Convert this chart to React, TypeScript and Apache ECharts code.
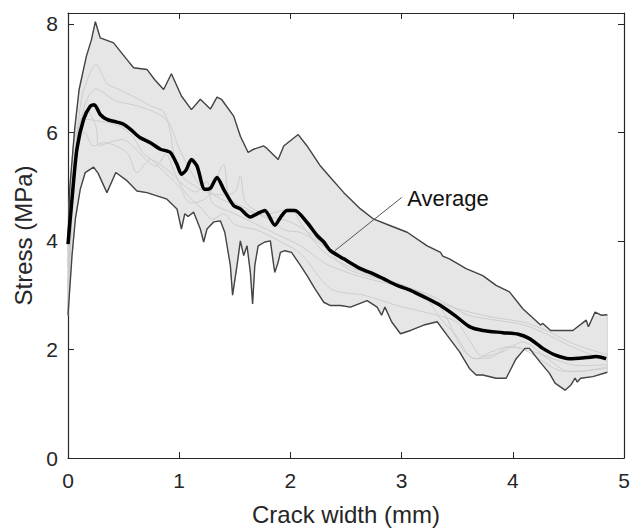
import React, { useEffect, useRef } from "react";
import * as echarts from "echarts";

const xTicks = [0, 1, 2, 3, 4, 5];
const yTicks = [0, 2, 4, 6, 8];

const upperEnvelope: number[][] = [
  [0, 4.0], [0.015, 4.95], [0.06, 6.06], [0.1, 6.79], [0.165, 7.4], [0.21, 7.7], [0.246, 8.04],
  [0.29, 7.74], [0.41, 7.65], [0.53, 7.34], [0.59, 7.19], [0.71, 7.16], [0.78, 6.97], [0.86, 6.79],
  [0.93, 7.08], [1.02, 6.67], [1.11, 6.42], [1.19, 6.61], [1.28, 6.43], [1.34, 6.65], [1.38, 6.61],
  [1.49, 6.3], [1.55, 5.93], [1.62, 5.63], [1.67, 5.69], [1.76, 5.75], [1.78, 5.72], [1.89, 5.5],
  [1.94, 5.75], [2.07, 5.96], [2.15, 5.75], [2.27, 5.38], [2.36, 5.17], [2.48, 4.89], [2.63, 4.59],
  [2.75, 4.4], [2.9, 4.28], [3.05, 4.16], [3.23, 3.91], [3.35, 3.79], [3.37, 3.72], [3.43, 3.67],
  [3.58, 3.49], [3.73, 3.36], [3.85, 3.18], [3.97, 3.06], [4.09, 2.75], [4.25, 2.45], [4.27, 2.48],
  [4.34, 2.35], [4.54, 2.35], [4.66, 2.54], [4.68, 2.42], [4.74, 2.69], [4.8, 2.63], [4.85, 2.64],
];

const lowerEnvelope: number[][] = [
  [0, 2.63], [0.036, 3.73], [0.066, 4.4], [0.11, 4.95], [0.155, 5.26], [0.23, 5.36], [0.27, 5.25],
  [0.35, 4.89], [0.43, 5.26], [0.53, 5.11], [0.62, 4.92], [0.71, 4.89], [0.8, 4.83], [0.89, 4.77],
  [0.98, 4.59], [1.02, 4.22], [1.05, 4.5], [1.08, 4.45], [1.13, 4.53], [1.19, 4.22], [1.22, 3.98],
  [1.25, 4.22], [1.31, 4.35], [1.37, 4.37], [1.41, 4.16], [1.46, 3.55], [1.48, 3.0], [1.52, 3.55],
  [1.55, 4.0], [1.58, 3.73], [1.61, 3.91], [1.64, 3.42], [1.66, 2.84], [1.68, 3.55], [1.71, 3.91],
  [1.77, 3.98], [1.82, 4.0], [1.85, 3.55], [1.86, 3.42], [1.89, 3.61], [1.91, 3.79], [1.95, 3.82],
  [2.01, 3.79], [2.09, 3.55], [2.15, 3.36], [2.22, 3.12], [2.3, 2.87], [2.36, 2.81], [2.45, 2.81],
  [2.54, 2.78], [2.69, 2.9], [2.78, 2.78], [2.82, 2.63], [2.85, 2.78], [2.91, 2.51], [2.99, 2.29],
  [3.08, 2.35], [3.2, 2.45], [3.32, 2.51], [3.41, 2.26], [3.52, 1.96], [3.61, 1.65], [3.67, 1.53],
  [3.73, 1.53], [3.85, 1.47], [3.94, 1.47], [3.97, 1.59], [4.03, 1.83], [4.11, 2.02], [4.15, 2.02],
  [4.24, 1.78], [4.33, 1.56], [4.38, 1.38], [4.47, 1.25], [4.52, 1.34], [4.56, 1.47], [4.58, 1.4],
  [4.61, 1.47], [4.72, 1.5], [4.85, 1.58],
];

const averageCurve: number[][] = [
  [0, 3.94], [0.036, 4.77], [0.08, 5.69], [0.14, 6.24], [0.2, 6.48], [0.236, 6.51], [0.29, 6.33],
  [0.35, 6.24], [0.44, 6.19], [0.5, 6.15], [0.56, 6.06], [0.65, 5.9], [0.74, 5.81], [0.83, 5.69],
  [0.92, 5.63], [0.98, 5.41], [1.02, 5.23], [1.06, 5.3], [1.11, 5.5], [1.16, 5.38], [1.23, 4.95],
  [1.28, 4.97], [1.34, 5.17], [1.4, 4.95], [1.49, 4.65], [1.55, 4.59], [1.64, 4.44], [1.7, 4.5],
  [1.77, 4.56], [1.86, 4.29], [1.92, 4.46], [1.97, 4.56], [2.04, 4.56], [2.15, 4.34], [2.24, 4.1],
  [2.3, 3.98], [2.36, 3.82], [2.48, 3.67], [2.63, 3.49], [2.75, 3.39], [2.84, 3.3], [2.96, 3.18],
  [3.08, 3.09], [3.2, 2.97], [3.35, 2.81], [3.49, 2.61], [3.61, 2.42], [3.73, 2.35], [3.91, 2.31],
  [4.05, 2.28], [4.15, 2.2], [4.27, 2.02], [4.39, 1.89], [4.51, 1.83], [4.66, 1.85], [4.75, 1.87],
  [4.84, 1.83],
];

const specimen1: number[][] = [
  [0, 2.8], [0.05, 5.2], [0.12, 6.6], [0.2, 7.1], [0.25, 7.25], [0.35, 6.9], [0.45, 6.8], [0.6, 6.65],
  [0.75, 6.48], [0.86, 6.38], [0.92, 6.0], [0.96, 5.5], [1.02, 5.2], [1.15, 5.0], [1.3, 4.85],
  [1.45, 4.7], [1.6, 4.55], [1.8, 4.45], [2.0, 4.35], [2.2, 4.1], [2.4, 3.75], [2.6, 3.5], [2.8, 3.3],
  [3.0, 3.15], [3.2, 3.05], [3.4, 2.85], [3.6, 2.63], [3.85, 2.54], [4.1, 2.45], [4.33, 2.26],
  [4.5, 2.08], [4.85, 1.78],
];
const specimen2: number[][] = [
  [0, 3.2], [0.06, 5.6], [0.15, 6.5], [0.25, 6.8], [0.43, 6.58], [0.6, 6.5], [0.76, 6.39], [0.9, 6.2],
  [1.0, 5.7], [1.1, 5.3], [1.2, 5.0], [1.35, 4.85], [1.5, 4.9], [1.55, 5.2], [1.6, 4.7], [1.8, 4.5],
  [2.0, 4.6], [2.1, 4.3], [2.3, 3.8], [2.5, 3.55], [2.75, 3.35], [3.05, 3.12], [3.2, 3.0], [3.35, 2.57],
  [3.49, 2.26], [3.65, 1.83], [3.8, 1.85], [3.97, 2.05], [4.1, 2.0], [4.27, 1.78], [4.45, 1.6],
  [4.6, 1.6], [4.85, 1.68],
];
const specimen3: number[][] = [
  [0, 2.7], [0.05, 5.0], [0.1, 6.1], [0.165, 6.42], [0.25, 6.12], [0.28, 5.75], [0.35, 5.8],
  [0.49, 5.87], [0.61, 5.69], [0.7, 5.5], [0.79, 5.38], [0.88, 5.6], [0.95, 5.3], [1.05, 4.9],
  [1.2, 4.6], [1.3, 4.4], [1.4, 4.5], [1.5, 4.3], [1.7, 4.2], [1.9, 4.0], [2.1, 3.75], [2.36, 3.12],
  [2.66, 3.0], [2.96, 2.81], [3.2, 2.69], [3.49, 2.51], [3.61, 2.17], [3.73, 1.87], [3.91, 1.96],
  [4.09, 2.14], [4.3, 1.85], [4.51, 1.59], [4.85, 1.65],
];
const specimen4: number[][] = [
  [0, 3.5], [0.05, 5.8], [0.12, 6.2], [0.165, 6.24], [0.3, 6.2], [0.46, 6.12], [0.58, 5.93],
  [0.67, 5.63], [0.75, 5.5], [0.85, 5.3], [1.0, 5.0], [1.1, 4.7], [1.25, 4.8], [1.4, 5.4], [1.45, 4.8],
  [1.6, 4.6], [1.8, 4.4], [1.95, 4.2], [2.1, 4.15], [2.3, 3.9], [2.5, 3.5], [2.8, 3.3], [3.0, 3.2],
  [3.3, 2.9], [3.4, 2.6], [3.55, 2.0], [3.67, 1.83], [3.8, 1.95], [3.97, 2.05], [4.2, 1.95],
  [4.4, 1.8], [4.6, 1.7], [4.85, 1.72],
];
const specimen5: number[][] = [
  [0, 3.0], [0.06, 5.5], [0.15, 6.0], [0.23, 5.75], [0.32, 5.81], [0.53, 5.63], [0.62, 5.26],
  [0.74, 5.5], [0.9, 5.3], [1.0, 5.1], [1.15, 4.9], [1.25, 5.1], [1.3, 4.7], [1.5, 4.5], [1.7, 4.3],
  [1.9, 4.1], [2.1, 3.9], [2.3, 3.6], [2.42, 3.49], [2.6, 3.36], [2.9, 3.2], [3.1, 3.1], [3.3, 2.9],
  [3.5, 2.75], [3.8, 2.6], [4.1, 2.5], [4.3, 2.35], [4.55, 2.1], [4.85, 1.9],
];
const specimens = [specimen1, specimen2, specimen3, specimen4, specimen5];

const leaderStart = [2.4, 3.82];
const leaderEnd = [3.0, 4.8];
const labelAnchor = [3.05, 4.79];
const labelText = "Average";

const FONT = "'Liberation Sans', Arial, Helvetica, sans-serif";
const AX = "#262626";

export default function App() {
  const ref = useRef<HTMLDivElement>(null);
  useEffect(() => {
    if (!ref.current) return;
    const chart = echarts.init(ref.current, undefined, { renderer: "svg" });
    const bandPolygon = [...upperEnvelope, ...lowerEnvelope.slice().reverse()];
    const line = { show: true, onZero: false, lineStyle: { color: AX, width: 1.2 } };
    const xTick = { show: true, inside: true, length: 6, lineStyle: { color: AX, width: 1 }, customValues: xTicks };
    const yTick = { show: true, inside: true, length: 6, lineStyle: { color: AX, width: 1 }, customValues: yTicks };
    const option: any = {
      animation: false,
      backgroundColor: "#ffffff",
      grid: { left: 68, right: 18, top: 13, bottom: 71, containLabel: false },
      xAxis: [
        {
          type: "value", min: 0, max: 5, interval: 1, position: "bottom",
          name: "Crack width (mm)", nameLocation: "middle", nameGap: 44,
          nameTextStyle: { fontFamily: FONT, fontSize: 24, color: AX },
          axisLabel: { fontFamily: FONT, fontSize: 21, color: AX, margin: 12, customValues: xTicks },
          axisLine: line, axisTick: xTick, splitLine: { show: false },
        },
        {
          type: "value", min: 0, max: 5, interval: 1, position: "top",
          axisLabel: { show: false },
          axisLine: line, axisTick: xTick, splitLine: { show: false },
        },
      ],
      yAxis: [
        {
          type: "value", min: 0, max: 8.2, interval: 2, position: "left",
          name: "Stress (MPa)", nameLocation: "middle", nameGap: 33,
          nameTextStyle: { fontFamily: FONT, fontSize: 24, color: AX },
          axisLabel: { fontFamily: FONT, fontSize: 21, color: AX, margin: 10, customValues: yTicks },
          axisLine: line, axisTick: yTick, splitLine: { show: false },
        },
        {
          type: "value", min: 0, max: 8.2, interval: 2, position: "right",
          axisLabel: { show: false },
          axisLine: line, axisTick: yTick, splitLine: { show: false },
        },
      ],
      series: [
        {
          type: "custom",
          silent: true,
          xAxisIndex: 0, yAxisIndex: 0,
          data: [[0, 0]],
          z: 1,
          renderItem: (_params: any, api: any) => ({
            type: "polygon",
            shape: { points: bandPolygon.map((p) => api.coord(p)) },
            style: { fill: "#e6e6e6", stroke: "#d2d2d2", lineWidth: 1 },
          }),
        },
        ...specimens.map((d) => ({
          type: "line", data: d, showSymbol: false, symbol: "none", z: 2, silent: true, smooth: 0.3,
          lineStyle: { color: "#cdcdcd", width: 1 },
        })),
        {
          type: "line", data: upperEnvelope, symbol: "none", z: 3, silent: true,
          lineStyle: { color: "#444444", width: 1.4 },
        },
        {
          type: "line", data: lowerEnvelope, symbol: "none", z: 3, silent: true,
          lineStyle: { color: "#444444", width: 1.4 },
        },
        {
          type: "line", data: averageCurve, symbol: "none", z: 5, silent: true, smooth: 0.25,
          lineStyle: { color: "#000000", width: 3.5 },
          markLine: {
            silent: true, symbol: "none", animation: false,
            label: { show: false },
            lineStyle: { color: "#555555", width: 1, type: "solid" },
            data: [[{ coord: leaderStart }, { coord: leaderEnd }]],
          },
        },
      ],
    };
    chart.setOption(option);
    const p = chart.convertToPixel({ xAxisIndex: 0, yAxisIndex: 0 }, labelAnchor) as number[];
    chart.setOption({
      graphic: [
        {
          type: "text", x: p[0], y: p[1], z: 10,
          style: { text: labelText, fontFamily: FONT, fontSize: 22, fill: "#111111", textAlign: "left", textVerticalAlign: "middle" },
        },
      ],
    });
    return () => chart.dispose();
  }, []);
  return <div ref={ref} style={{ width: 642, height: 531, position: "absolute", left: 0, top: 0 }} />;
}
